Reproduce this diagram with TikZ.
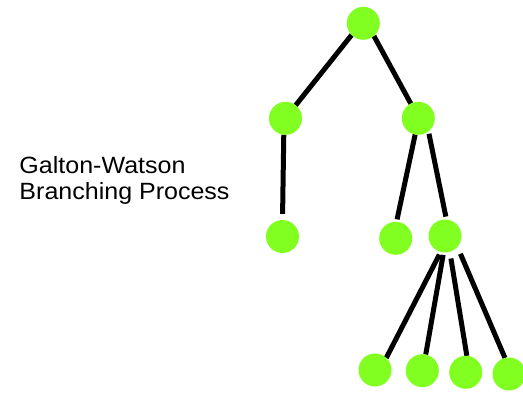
\documentclass[tikz,border=0pt]{standalone}
\usepackage{fontspec}
\newfontfamily\titlefont[FakeStretch=1.065]{Liberation Sans}
\usepackage{xcolor}
\usetikzlibrary{backgrounds}
\definecolor{ballgreen}{RGB}{128,255,32}

\begin{document}
\begin{tikzpicture}[x=1pt, y=-1pt,
    ball/.style={circle, fill=ballgreen, minimum size=33pt, inner sep=0pt, outer sep=0pt},
    edge/.style={line width=5pt, black}]
  \useasboundingbox (0,0) rectangle (523,393);
  \node (title) [anchor=base west, align=left, inner sep=0pt,
    font={\titlefont\fontsize{23.5}{26.7}\selectfont}]
    at (19.3,200) {Galton-Watson\\Branching Process};
  % generation 0 and 1
  \node (root) [ball] at (363.3,23.3) {};
  \node (l1a) [ball] at (285.5,118.3) {};
  \node (l1b) [ball] at (418.3,118.3) {};
  % generation 2
  \node (l2a) [ball] at (282.5,236.5) {};
  \node (l2b) [ball] at (395.7,238.3) {};
  \node (l2c) [ball] at (445,236) {};
  % generation 3
  \node (l3a) [ball] at (375,370) {};
  \node (l3b) [ball] at (422.3,370.7) {};
  \node (l3c) [ball] at (465.7,372.3) {};
  \node (l3d) [ball] at (509,374) {};
  \begin{pgfonlayer}{background}
    \draw[edge] (root.225) -- (l1a.52);
    \draw[edge] (root.-50) -- (l1b.117);
    \draw[edge, shorten >=6.2pt] (l1a.-96) -- (l2a.90);
    \draw[edge, shorten >=2.5pt] (l1b.-101) -- (l2b.87);
    \draw[edge, shorten <=2.5pt, shorten >=3pt] (l1b.-52) -- (l2c.85);
    \draw[edge, shorten <=3pt] (l2c.-105) -- (l3a.47);
    \draw[edge, shorten <=2.5pt] (l2c.-95) -- (l3b.78);
    \draw[edge, shorten <=6.8pt] (l2c.-73) -- (l3c.86);
    \draw[edge, shorten <=7.6pt] (l2c.-41) -- (l3d.104);
  \end{pgfonlayer}
\end{tikzpicture}
\end{document}
